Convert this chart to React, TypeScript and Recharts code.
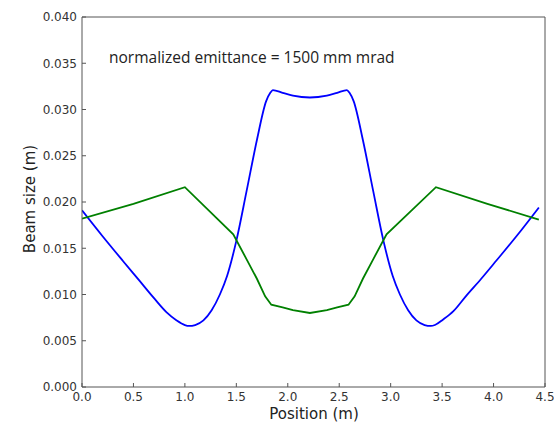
import React from 'react';
import { LineChart, Line, XAxis, YAxis } from 'recharts';

// Beam envelope along the lattice
const BLUE_X = [
  0, 0.2, 0.4, 0.55, 0.7, 0.82, 0.92, 1.0, 1.04, 1.1, 1.18, 1.26, 1.34, 1.41, 1.5, 1.6, 1.7, 1.79, 1.83, 1.855,
  1.95, 2.05, 2.215, 2.38, 2.48, 2.575, 2.6, 2.64, 2.73, 2.83, 2.93, 3.02, 3.09, 3.17, 3.25, 3.33, 3.39, 3.43,
  3.51, 3.61, 3.73, 3.88, 4.03, 4.23, 4.44,
];
const BLUE_Y = [
  0.0191, 0.0163, 0.0136, 0.0116, 0.0096, 0.0081, 0.0072, 0.0067, 0.0066, 0.0067, 0.0072, 0.0083, 0.01, 0.012,
  0.0158, 0.0212, 0.0267, 0.0309, 0.0318, 0.0321, 0.0318, 0.0315, 0.0313, 0.0315, 0.0318, 0.0321, 0.0318,
  0.0309, 0.0267, 0.0212, 0.0158, 0.012, 0.01, 0.0083, 0.0072, 0.0067, 0.0066, 0.0067, 0.0073, 0.0082, 0.0098,
  0.0117, 0.0137, 0.0164, 0.0194,
];
const GREEN_X = [
  0, 0.5, 1.0, 1.47, 1.6, 1.7, 1.78, 1.84, 1.95, 2.05, 2.215, 2.38, 2.48, 2.59, 2.65, 2.73, 2.83, 2.96, 3.44,
  3.94, 4.44,
];
const GREEN_Y = [
  0.0182, 0.0198, 0.0216, 0.0165, 0.0138, 0.0117, 0.0098, 0.0089, 0.0086, 0.0083, 0.008, 0.0083, 0.0086,
  0.0089, 0.0098, 0.0117, 0.0138, 0.0165, 0.0216, 0.0198, 0.0181,
];
const X_TICKS = [0, 0.5, 1, 1.5, 2, 2.5, 3, 3.5, 4, 4.5];
const Y_TICKS = [0, 0.005, 0.01, 0.015, 0.02, 0.025, 0.03, 0.035, 0.04];

const blueData = BLUE_X.map((x, i) => ({ x, y: BLUE_Y[i] }));
const greenData = GREEN_X.map((x, i) => ({ x, y: GREEN_Y[i] }));

const FRAME = '#555';
const tickStyle = { fill: '#333', fontSize: 12, fontFamily: 'DejaVu Sans' };

export default function App() {
  return (
    <div style={{ position: 'relative', width: 554, height: 425, background: '#fff' }}>
      <style>{'body{margin:0}'}</style>
      <LineChart width={554} height={425} margin={{ top: 16, right: 8, bottom: 0, left: 0 }}>
        <XAxis
          xAxisId="b"
          type="number"
          dataKey="x"
          domain={[0, 4.5]}
          ticks={X_TICKS}
          allowDataOverflow
          tickFormatter={(v) => v.toFixed(1)}
          height={38}
          tickSize={-4}
          tickMargin={9.5}
          tick={tickStyle}
          stroke={FRAME}
        />
        <XAxis
          xAxisId="t"
          orientation="top"
          type="number"
          dataKey="x"
          domain={[0, 4.5]}
          ticks={X_TICKS}
          height={1}
          tickSize={-4}
          tick={false}
          stroke={FRAME}
        />
        <YAxis
          yAxisId="l"
          type="number"
          dataKey="y"
          domain={[0, 0.04]}
          ticks={Y_TICKS}
          allowDataOverflow
          tickFormatter={(v) => v.toFixed(3)}
          width={82}
          tickSize={-4}
          tickMargin={9}
          tick={tickStyle}
          stroke={FRAME}
        />
        <YAxis
          yAxisId="r"
          orientation="right"
          type="number"
          dataKey="y"
          domain={[0, 0.04]}
          ticks={Y_TICKS}
          width={1}
          tickSize={-4}
          tick={false}
          stroke={FRAME}
        />
        <Line
          xAxisId="b"
          yAxisId="l"
          data={blueData}
          dataKey="y"
          type="monotone"
          stroke="#0000ff"
          strokeWidth={1.8}
          dot={false}
          isAnimationActive={false}
        />
        <Line
          xAxisId="b"
          yAxisId="l"
          data={greenData}
          dataKey="y"
          type="linear"
          stroke="#008000"
          strokeWidth={1.8}
          dot={false}
          isAnimationActive={false}
        />
      </LineChart>
      <div
        style={{
          position: 'absolute', left: 109, top: 46, fontFamily: 'Open Sans', fontSize: 15.5,
          color: '#222', whiteSpace: 'nowrap', lineHeight: '22px',
        }}
      >
        normalized emittance = 1500 mm mrad
      </div>
      <div
        style={{
          position: 'absolute', left: 314, top: 414, transform: 'translate(-50%, -50%)',
          fontFamily: 'DejaVu Sans', fontSize: 15, color: '#222', whiteSpace: 'nowrap',
        }}
      >
        Position (m)
      </div>
      <div
        style={{
          position: 'absolute', left: 30, top: 199, transform: 'translate(-50%, -50%) rotate(-90deg)',
          fontFamily: 'DejaVu Sans', fontSize: 15, color: '#222', whiteSpace: 'nowrap',
        }}
      >
        Beam size (m)
      </div>
    </div>
  );
}
